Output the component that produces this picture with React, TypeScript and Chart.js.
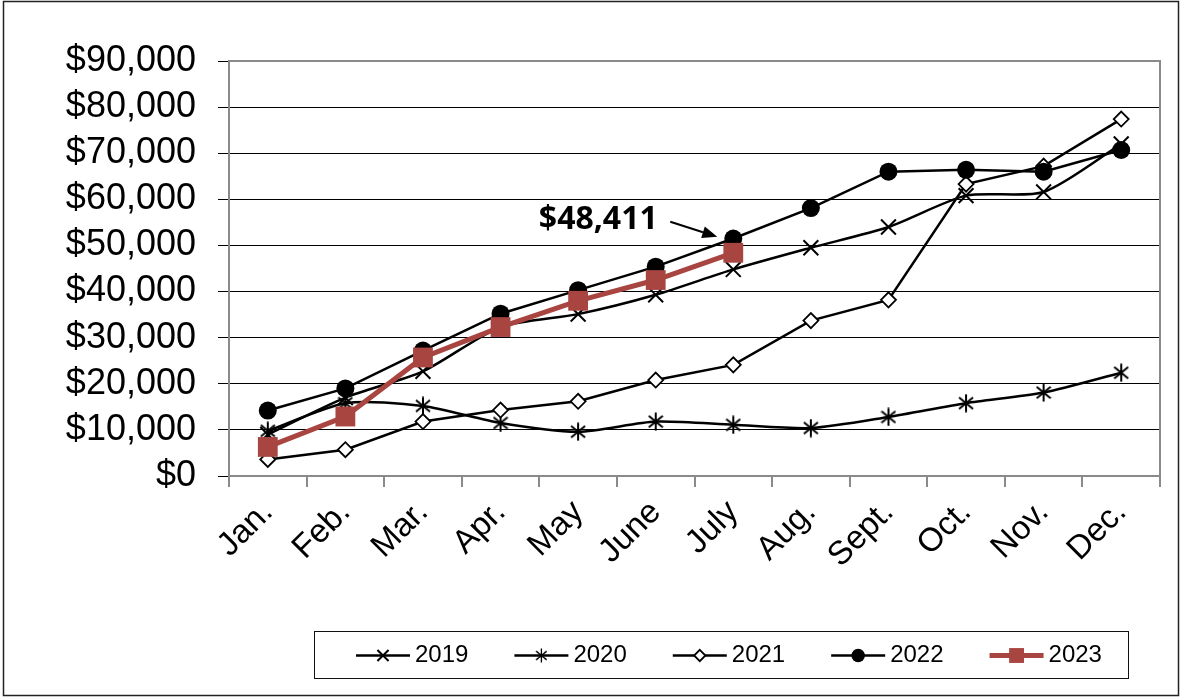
import { useEffect, useRef } from 'react';
import { Chart, registerables } from 'chart.js';

Chart.register(...registerables);

const MONTHS = ['Jan.', 'Feb.', 'Mar.', 'Apr.', 'May', 'June', 'July', 'Aug.', 'Sept.', 'Oct.', 'Nov.', 'Dec.'];
const SERIES_LABELS = ['2019', '2020', '2021', '2022', '2023'];
const V2019 = [9000, 17000, 22700, 32300, 35100, 39300, 44800, 49500, 54000, 60800, 61600, 72000];
const V2020 = [9800, 15800, 15200, 11500, 9600, 11800, 11100, 10400, 12800, 15800, 18100, 22400];
const V2021 = [3600, 5700, 11800, 14300, 16200, 20800, 24100, 33700, 38200, 63300, 67200, 77400];
const V2022 = [14200, 19000, 27200, 35200, 40300, 45400, 51500, 58100, 66000, 66400, 66000, 70700];
const V2023 = [6300, 12900, 25700, 32300, 38000, 42500, 48411];
const Y_MIN = 0;
const Y_MAX = 90000;
const Y_STEP = 10000;
const ANNOTATION_TEXT = '$48,411';
const ANNOTATION_SERIES = 4;
const ANNOTATION_INDEX = 6;

const RED = '#A84541';
const GRAY = '#8a8a8a';

function makeAsterisk(w: number, h: number, lw: number) {
  const c = document.createElement('canvas');
  c.width = w;
  c.height = h;
  const ctx = c.getContext('2d')!;
  ctx.strokeStyle = '#000';
  ctx.lineWidth = lw;
  const mx = w / 2;
  const my = h / 2;
  ctx.beginPath();
  ctx.moveTo(mx, 0.5);
  ctx.lineTo(mx, h - 0.5);
  ctx.moveTo(1, my - h * 0.3);
  ctx.lineTo(w - 1, my + h * 0.3);
  ctx.moveTo(w - 1, my - h * 0.3);
  ctx.lineTo(1, my + h * 0.3);
  ctx.stroke();
  return c;
}

function drawMarker(ctx: CanvasRenderingContext2D, ds: any, x: number, y: number, scale: number) {
  const style = ds.pointStyle;
  const r = ds.pointRadius * scale;
  ctx.save();
  ctx.lineWidth = ds.pointBorderWidth;
  ctx.strokeStyle = ds.pointBorderColor;
  ctx.fillStyle = ds.pointBackgroundColor;
  if (style instanceof HTMLCanvasElement) {
    const w = style.width * scale;
    const h = style.height * scale;
    ctx.drawImage(style, x - w / 2, y - h / 2, w, h);
  } else if (style === 'crossRot') {
    const o = r * Math.SQRT1_2;
    ctx.beginPath();
    ctx.moveTo(x - o, y - o);
    ctx.lineTo(x + o, y + o);
    ctx.moveTo(x + o, y - o);
    ctx.lineTo(x - o, y + o);
    ctx.stroke();
  } else if (style === 'rectRot') {
    ctx.beginPath();
    ctx.moveTo(x, y - r);
    ctx.lineTo(x + r, y);
    ctx.lineTo(x, y + r);
    ctx.lineTo(x - r, y);
    ctx.closePath();
    ctx.fill();
    ctx.stroke();
  } else if (style === 'circle') {
    ctx.beginPath();
    ctx.arc(x, y, r, 0, Math.PI * 2);
    ctx.fill();
  } else if (style === 'rect') {
    const s = r * Math.SQRT1_2;
    ctx.fillRect(x - s, y - s, 2 * s, 2 * s);
  }
  ctx.restore();
}

const decorPlugin = {
  id: 'decor',
  beforeDraw(chart: any) {
    const { ctx, width, height } = chart;
    ctx.save();
    ctx.fillStyle = '#fff';
    ctx.fillRect(0, 0, width, height);
    ctx.strokeStyle = '#222';
    ctx.lineWidth = 1.5;
    ctx.strokeRect(3.5, 1.5, width - 5, height - 4);
    ctx.restore();
  },
  beforeDatasetsDraw(chart: any) {
    const { ctx, chartArea: a } = chart;
    ctx.save();
    ctx.strokeStyle = GRAY;
    ctx.lineWidth = 2;
    ctx.beginPath();
    ctx.moveTo(a.left, a.top);
    ctx.lineTo(a.right, a.top);
    ctx.lineTo(a.right, a.bottom);
    ctx.stroke();
    ctx.restore();
  },
  afterDatasetsDraw(chart: any) {
    const { ctx } = chart;
    const meta = chart.getDatasetMeta(ANNOTATION_SERIES);
    const pt = meta.data[ANNOTATION_INDEX];
    if (!pt) return;
    const px = pt.x;
    const py = pt.y;
    ctx.save();
    ctx.fillStyle = '#000';
    ctx.font = 'bold 32px "Open Sans"';
    ctx.textAlign = 'center';
    ctx.textBaseline = 'middle';
    ctx.fillText(ANNOTATION_TEXT, px - 135, py - 33);
    const x1 = px - 63, y1 = py - 31, x2 = px - 16, y2 = py - 16;
    const ang = Math.atan2(y2 - y1, x2 - x1);
    const hl = 15, hw = 6;
    const bx = x2 - hl * Math.cos(ang), by = y2 - hl * Math.sin(ang);
    ctx.strokeStyle = '#000';
    ctx.lineWidth = 2;
    ctx.beginPath();
    ctx.moveTo(x1, y1);
    ctx.lineTo(bx, by);
    ctx.stroke();
    ctx.beginPath();
    ctx.moveTo(x2, y2);
    ctx.lineTo(bx + hw * Math.sin(ang), by - hw * Math.cos(ang));
    ctx.lineTo(bx - hw * Math.sin(ang), by + hw * Math.cos(ang));
    ctx.closePath();
    ctx.fill();
    ctx.restore();
  },
  afterDraw(chart: any) {
    const { ctx } = chart;
    const box = { left: 314, top: 631, right: 1128, bottom: 678 };
    ctx.save();
    ctx.strokeStyle = '#111';
    ctx.lineWidth = 1;
    ctx.strokeRect(box.left + 0.5, box.top + 0.5, box.right - box.left, box.bottom - box.top);
    ctx.font = '24px "Liberation Sans", Arial';
    ctx.textBaseline = 'middle';
    ctx.textAlign = 'left';
    const cy = (box.top + box.bottom) / 2 + 1;
    const lineLen = 54;
    const gap = 5;
    const spacing = 46;
    let x = box.left + 42;
    chart.data.datasets.forEach((ds: any) => {
      ctx.strokeStyle = ds.borderColor;
      ctx.lineWidth = ds.borderWidth;
      ctx.beginPath();
      ctx.moveTo(x, cy);
      ctx.lineTo(x + lineLen, cy);
      ctx.stroke();
      drawMarker(ctx, ds, x + lineLen / 2, cy, 0.75);
      ctx.fillStyle = '#000';
      ctx.fillText(ds.label, x + lineLen + gap, cy);
      x += lineLen + gap + ctx.measureText(ds.label).width + spacing;
    });
    ctx.restore();
  },
};

export default function App() {
  const ref = useRef<HTMLCanvasElement>(null);
  useEffect(() => {
    if (!ref.current) return;
    const asterisk = makeAsterisk(16, 19, 2);
    const base = { fill: false, borderColor: '#000', borderWidth: 2.5, pointBorderColor: '#000' };
    const chart = new Chart(ref.current, {
      type: 'line',
      data: {
        labels: MONTHS,
        datasets: [
          { ...base, label: SERIES_LABELS[0], data: V2019, tension: 0.25, pointStyle: 'crossRot', pointRadius: 10.5, pointBorderWidth: 2, pointBackgroundColor: '#000', order: 4 },
          { ...base, label: SERIES_LABELS[1], data: V2020, tension: 0.25, pointStyle: asterisk, pointRadius: 9, pointBorderWidth: 2, pointBackgroundColor: '#000', order: 3 },
          { ...base, label: SERIES_LABELS[2], data: V2021, tension: 0, pointStyle: 'rectRot', pointRadius: 7.5, pointBorderWidth: 1.8, pointBackgroundColor: '#fff', order: 2 },
          { ...base, label: SERIES_LABELS[3], data: V2022, tension: 0, pointStyle: 'circle', pointRadius: 9, pointBorderWidth: 0, pointBackgroundColor: '#000', order: 1 },
          { ...base, label: SERIES_LABELS[4], data: V2023, tension: 0, borderColor: RED, borderWidth: 5, pointStyle: 'rect', pointRadius: 14, pointBorderWidth: 0, pointBorderColor: RED, pointBackgroundColor: RED, order: 0 },
        ] as any,
      },
      options: {
        animation: false,
        responsive: true,
        maintainAspectRatio: false,
        layout: { padding: { top: 61, left: 0, right: 20, bottom: 82 } },
        plugins: { legend: { display: false }, tooltip: { enabled: false } },
        elements: { point: { hoverRadius: 0 } },
        scales: {
          x: {
            offset: true,
            grid: { offset: true, drawOnChartArea: false, color: GRAY, lineWidth: 2, tickLength: 11 },
            border: { color: GRAY, width: 2 },
            ticks: {
              autoSkip: false,
              minRotation: 45,
              maxRotation: 45,
              padding: 6,
              color: '#000',
              font: { family: '"Liberation Sans", Arial', size: 33 },
            },
            afterFit: (s: any) => { s.height = 140; },
          },
          y: {
            min: Y_MIN,
            max: Y_MAX,
            grid: { color: '#000', lineWidth: 1, tickLength: 11 },
            border: { color: GRAY, width: 2 },
            ticks: {
              stepSize: Y_STEP,
              autoSkip: false,
              padding: 22,
              color: '#000',
              font: { family: '"Liberation Sans", Arial', size: 36 },
              callback: (v: any) => '$' + Number(v).toLocaleString('en-US'),
            },
            afterFit: (s: any) => { s.width = 229; },
          },
        },
      },
      plugins: [decorPlugin],
    });
    return () => chart.destroy();
  }, []);
  return (
    <div style={{ position: 'fixed', left: 0, top: 0, width: 1180, height: 698 }}>
      <canvas ref={ref} />
    </div>
  );
}
